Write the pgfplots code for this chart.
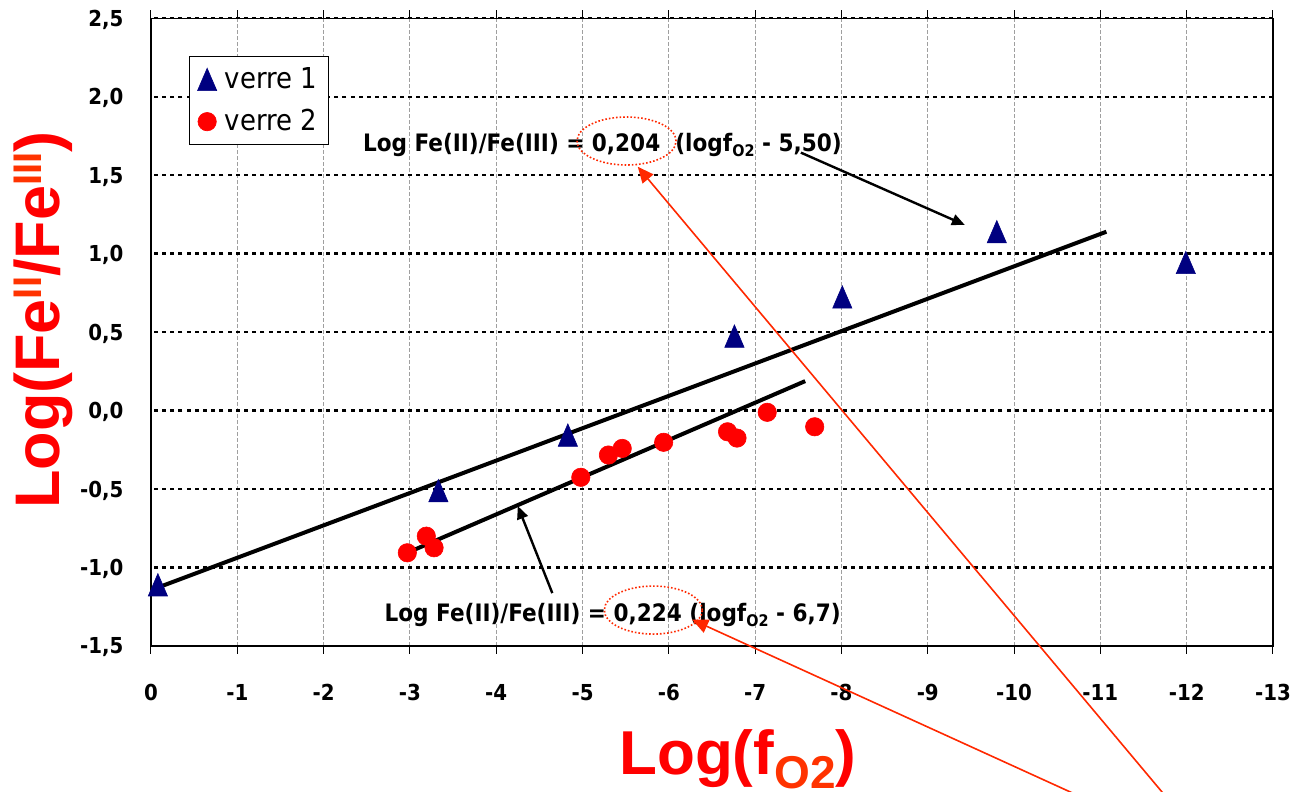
\documentclass[border=0pt]{standalone}
\usepackage{fontspec}
\setmainfont{DejaVu Sans Condensed}
\newfontfamily\arialfont{Liberation Sans}
\usepackage{pgfplots}
\pgfplotsset{compat=1.18}
\usetikzlibrary{arrows.meta}
\definecolor{navyblue}{RGB}{0,0,128}
\definecolor{ptred}{RGB}{255,0,0}
\definecolor{orred}{RGB}{255,51,0}
\definecolor{arrred}{RGB}{255,40,0}
\pgfdeclareplotmark{tallTri}{%
  \pgfpathmoveto{\pgfpoint{0pt}{\pgfplotmarksize}}%
  \pgfpathlineto{\pgfpoint{0.86\pgfplotmarksize}{-\pgfplotmarksize}}%
  \pgfpathlineto{\pgfpoint{-0.86\pgfplotmarksize}{-\pgfplotmarksize}}%
  \pgfpathclose
  \pgfusepathqfillstroke}
\begin{document}
\begin{tikzpicture}
\path[use as bounding box] (-75.5pt,-73pt) rectangle (570pt,323pt);
\begin{axis}[
  at={(0pt,0pt)}, anchor=south west,
  scale only axis, width=561pt, height=313.85pt,
  xmin=-13, xmax=0, ymin=-1.5, ymax=2.5,
  x dir=reverse,
  clip=false,
  axis line style={black, line width=0.6pt},
  xtick={0,-1,-2,-3,-4,-5,-6,-7,-8,-9,-10,-11,-12,-13},
  xticklabels={0,-1,-2,-3,-4,-5,-6,-7,-8,-9,-10,-11,-12,-13},
  ytick={-1,-0.5,0,0.5,1,1.5,2,2.5},
  yticklabels={{-1{,}0},{-0{,}5},{0{,}0},{0{,}5},{1{,}0},{1{,}5},{2{,}0},{2{,}5}},
  extra y ticks={-1.5},
  extra y tick labels={{-1{,}5}},
  extra y tick style={grid=none},
  tick align=outside,
  major tick length=4pt,
  xtick style={black, line width=0.5pt},
  ytick style={draw=none},
  xmajorgrids=true, ymajorgrids=true,
  major x grid style={gray!75, line width=0.45pt, dash pattern=on 2pt off 1pt},
  major y grid style={black, line width=1.2pt, dash pattern=on 2pt off 2.1pt},
  xticklabel style={font=\fontsize{11}{13}\selectfont\bfseries, anchor=base, inner sep=0pt, yshift=-23.5pt},
  yticklabel style={font=\fontsize{11}{13}\selectfont\bfseries, anchor=base east, inner sep=0pt, xshift=-9.6pt, yshift=-4pt},
  xlabel={\arialfont\bfseries\fontsize{31}{36}\selectfont Log(f\raisebox{-7pt}{\color{orred}\fontsize{23}{23}\selectfont O2})},
  xlabel style={at={(axis description cs:0.523,-0.2055)}, anchor=base, inner sep=0pt, color=ptred},
  ylabel={\arialfont\bfseries\fontsize{31.5}{36}\selectfont Log(Fe\raisebox{9.2pt}{\color{orred}\fontsize{20}{20}\selectfont II}/Fe\raisebox{9.2pt}{\color{orred}\fontsize{20}{20}\selectfont III})},
  ylabel style={at={(axis description cs:-0.0811,0.519)}, anchor=base, inner sep=0pt, color=ptred},
  legend style={at={(axis description cs:0.0339,0.94)}, anchor=north west, draw=black, line width=0.5pt,
    font=\fontsize{14.4}{16}\selectfont, inner xsep=4pt, inner ysep=3.5pt, row sep=5pt, column sep=2pt,
    cells={anchor=west}},
  legend image code/.code={\draw[#1] plot coordinates {(0pt,0pt)};},
]
% verre 1
\addplot[only marks, mark=tallTri, mark size=5.6pt, color=navyblue, mark options={line width=0.3pt}] coordinates {
  (-0.08,-1.11) (-3.33,-0.51) (-4.83,-0.156) (-6.76,0.475) (-8.01,0.724) (-9.80,1.14) (-11.99,0.944)
};
\addlegendentry{verre 1}
% verre 2
\addplot[only marks, mark=*, mark size=4.6pt, color=ptred, mark options={line width=0.3pt}] coordinates {
  (-2.97,-0.906) (-3.19,-0.80) (-3.28,-0.874) (-4.98,-0.425) (-5.30,-0.283) (-5.46,-0.241)
  (-5.94,-0.202) (-6.68,-0.135) (-6.79,-0.175) (-7.14,-0.011) (-7.69,-0.103)
};
\addlegendentry{verre 2}
% regression lines
\addplot[black, line width=2pt, forget plot] coordinates {(0,-1.144) (-11.07,1.14)};
\addplot[black, line width=2pt, forget plot] coordinates {(-2.97,-0.906) (-7.58,0.188)};
% annotations
\node[font=\bfseries\fontsize{12}{14}\selectfont, anchor=center] at (axis cs:-5.23,1.692)
  {Log Fe(II)/Fe(III) = 0,204\ \ (logf\raisebox{-2.5pt}{\fontsize{8}{8}\selectfont O2} - 5,50)};
\node[font=\bfseries\fontsize{12}{14}\selectfont, anchor=center] at (axis cs:-5.35,-1.30)
  {Log Fe(II)/Fe(III) = 0,224 (logf\raisebox{-2.5pt}{\fontsize{8}{8}\selectfont O2} - 6,7)};
\draw[arrred, line width=0.8pt, dash pattern=on 0.8pt off 1pt] (axis cs:-5.51,1.718) ellipse [x radius=24.75pt, y radius=12pt];
\draw[arrred, line width=0.8pt, dash pattern=on 0.8pt off 1pt] (axis cs:-5.82,-1.271) ellipse [x radius=24.5pt, y radius=12pt];
\draw[black, line width=1.2pt, -{Triangle[length=6.5pt,width=5.5pt]}] (axis cs:-7.53,1.644) -- (axis cs:-9.43,1.183);
\draw[black, line width=1.2pt, -{Triangle[length=6.5pt,width=5.5pt]}] (axis cs:-4.65,-1.163) -- (axis cs:-4.25,-0.608);
\draw[arrred, line width=0.8pt, -{Triangle[length=8pt,width=7pt]}] (axis cs:-11.79,-2.48) -- (axis cs:-5.64,1.554);
\draw[arrred, line width=0.8pt, -{Triangle[length=8pt,width=7pt]}] (axis cs:-10.85,-2.48) -- (axis cs:-6.27,-1.332);
\end{axis}
\end{tikzpicture}
\end{document}
